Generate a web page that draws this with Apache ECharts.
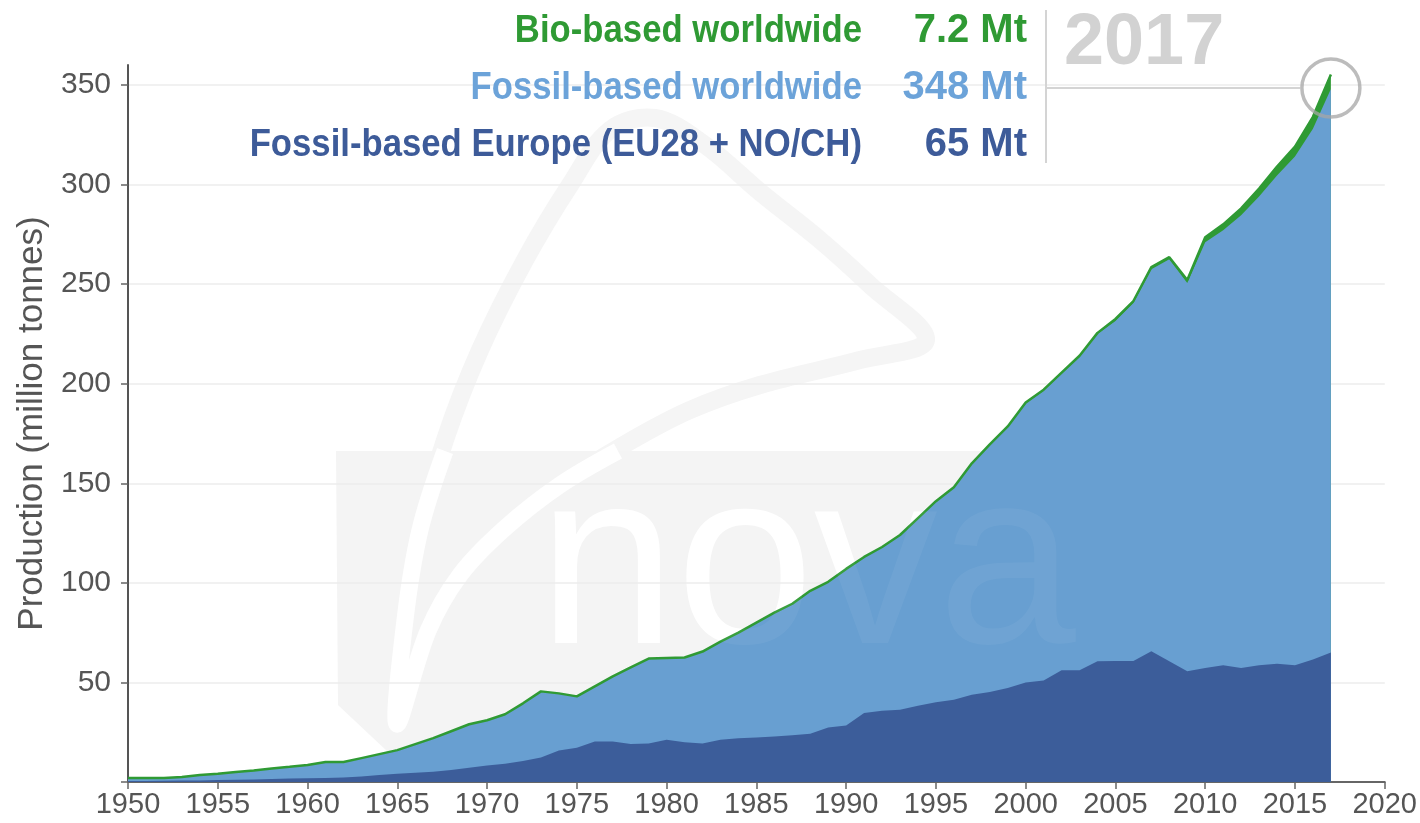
<!DOCTYPE html>
<html>
<head>
<meta charset="utf-8">
<script src="https://cdn.jsdelivr.net/npm/echarts@6/dist/echarts.min.js"></script>
<style>html,body{margin:0;padding:0;background:#fff}#c{width:1420px;height:823px}</style>
</head>
<body>
<div id="c"></div>
<script>
// ---- data (million tonnes) ----
var years = [1950,1951,1952,1953,1954,1955,1956,1957,1958,1959,
             1960,1961,1962,1963,1964,1965,1966,1967,1968,1969,
             1970,1971,1972,1973,1974,1975,1976,1977,1978,1979,
             1980,1981,1982,1983,1984,1985,1986,1987,1988,1989,
             1990,1991,1992,1993,1994,1995,1996,1997,1998,1999,
             2000,2001,2002,2003,2004,2005,2006,2007,2008,2009,
             2010,2011,2012,2013,2014,2015,2016,2017];
// Fossil-based worldwide (total fossil, includes Europe)
var fossilWorld = [2,2,2,2.5,3.5,4.2,5,5.8,6.8,7.6,
                   8.5,10,10,12,14,16,19,22,25.5,29,
                   31,34,39.5,45.5,44.5,43,48,53,57.5,62,
                   62.3,62.5,65.5,70.5,75,80,85,89.5,96,100.5,
                   107,113,118,124,132.5,141,148,160,169.5,178.5,
                   190,196.5,205,213.5,225,231.5,240.5,257.5,262.5,250.5,
                   271,277,284.5,294,304.5,314,328,348];
// Fossil-based Europe (EU28 + NO/CH)
var europe = [0.5,0.5,0.6,0.7,0.8,1,1.1,1.3,1.5,1.7,
              1.9,2,2.2,2.8,3.5,4.2,4.6,5.2,6,7.2,
              8.3,9.2,10.5,12.3,15.8,17.2,20.3,20.3,19.1,19.3,
              21.2,20,19.3,21.2,22,22.3,22.8,23.5,24.2,27.4,
              28.4,34.6,35.8,36.3,38.3,40.1,41.3,43.8,45.2,47.2,
              50,50.9,56.1,56.1,60.6,60.8,60.8,65.6,60.6,55.6,
              57.3,58.6,57.3,58.6,59.4,58.6,61.5,65];
// Bio-based worldwide
var bio = [0,0,0,0,0,0,0,0,0,0,
           0,0,0,0,0,0,0,0,0,0,
           0,0,0,0,0,0,0,0,0,0,
           0,0,0,0,0,0,0,0,0,0,
           0,0,0,0,0,0,0,0,0,0,
           0.5,0.5,0.5,0.5,0.5,1,1,1,1,1.5,
           2.5,3,3.5,4,4.5,5,6,7.2];
var yTicks = [0,50,100,150,200,250,300,350];
var yLabels = [50,100,150,200,250,300,350];
var legendRows = [
  {name:'Bio-based worldwide', value:'7.2 Mt', color:'#2f9a34'},
  {name:'Fossil-based worldwide', value:'348 Mt', color:'#6ca3d9'},
  {name:'Fossil-based Europe (EU28 + NO/CH)', value:'65 Mt', color:'#3d5b99'}
];
var highlightYear = '2017';

// ---- build series data (areas drawn on top of each other, bio on top of fossil) ----
var dEurope = years.map(function(y,i){return [y, europe[i]];});
var dWorld = years.map(function(y,i){return [y, fossilWorld[i]];});
var dTop = years.map(function(y,i){return [y, +(fossilWorld[i]+bio[i]).toFixed(2)];});

var chart = echarts.init(document.getElementById('c'), null, {renderer:'canvas'});
var FONT = '"Liberation Sans", Arial, sans-serif';

var graphics = [];
// faint watermark (behind the series)
var WG = '#f4f4f4';
graphics.push({type:'polyline', z:0, silent:true,
  shape:{smooth:0.35, points:[[397,724],[405,620],[420,530],[445,440],[480,350],[525,260],[570,185],[610,130],[655,118],[705,145],[760,192],[820,240],[870,285],[926,340],
    [860,360],[760,385],[690,410],[627,443],[560,485],[504,529],[460,575],[428,631],[397,724]]},
  style:{fill:null, stroke:'#f5f5f5', lineWidth:18}});
graphics.push({type:'polygon', z:0, silent:true,
  shape:{points:[[336,451],[1110,451],[1110,782],[420,782],[338,705]]},
  style:{fill:WG}});
graphics.push({type:'polyline', z:0, silent:true,
  shape:{smooth:0.35, points:[[445,451],[420,530],[405,620],[397,724],[428,631],[460,575],[504,529],[560,485],[618,451]]},
  style:{fill:null, stroke:'#ffffff', lineWidth:17}});
graphics.push({type:'text', z:0, silent:true, x:538, y:575,
  style:{text:'nova', fill:'#ffffff', font:'248px "Liberation Sans", Arial, sans-serif', align:'left', verticalAlign:'middle'}});
// the same letters faintly showing through the filled areas
graphics.push({type:'text', z:20, silent:true, x:538, y:575,
  style:{text:'nova', fill:'rgba(255,255,255,0.05)', font:'248px "Liberation Sans", Arial, sans-serif', align:'left', verticalAlign:'middle'}});

var rowY = [31, 88, 145];
legendRows.forEach(function(r, i){
  graphics.push({type:'text', z:10, x:862, y:rowY[i], scaleX:0.89, originX:0, originY:0,
    style:{text:r.name, fill:r.color, font:'bold 39px '+FONT, align:'right', verticalAlign:'middle'}});
  graphics.push({type:'text', z:10, x:1027, y:rowY[i],
    style:{text:r.value, fill:r.color, font:'bold 40px '+FONT, align:'right', verticalAlign:'middle'}});
});
graphics.push({type:'line', z:10, shape:{x1:1046,y1:10,x2:1046,y2:163}, style:{stroke:'#d4d4d4', lineWidth:2}});
graphics.push({type:'line', z:10, shape:{x1:1046,y1:88,x2:1300,y2:88}, style:{stroke:'#d4d4d4', lineWidth:2}});
graphics.push({type:'text', z:10, x:1064, y:44,
  style:{text:highlightYear, fill:'#d2d2d2', font:'bold 72px '+FONT, align:'left', verticalAlign:'middle'}});

var option = {
  animation:false,
  backgroundColor:'#ffffff',
  grid:{left:128, right:35, top:65, bottom:41, containLabel:false},
  xAxis:{
    type:'value', min:1950, max:2020, interval:5,
    axisLine:{show:true, lineStyle:{color:'#666', width:2}},
    axisTick:{show:true, length:7, lineStyle:{color:'#666', width:1.5}},
    axisLabel:{color:'#555', fontSize:29, fontFamily:FONT, margin:8, formatter:function(v){return String(v);}},
    splitLine:{show:false}
  },
  yAxis:{
    type:'value', min:0, max:360, interval:50,
    name:'Production (million tonnes)', nameLocation:'middle', nameGap:78,
    nameTextStyle:{color:'#555', fontSize:35, fontFamily:FONT},
    axisLine:{show:true, lineStyle:{color:'#555', width:2}},
    axisTick:{show:true, length:7, customValues:yTicks, lineStyle:{color:'#666', width:1.5}},
    axisLabel:{color:'#555', fontSize:30, fontFamily:FONT, margin:17, customValues:yLabels},
    splitLine:{show:true, lineStyle:{color:'#ececec', width:1.5}}
  },
  series:[
    {name:'Bio-based worldwide', type:'line', data:dTop, z:3,
     symbol:'none', lineStyle:{width:2.5, color:'#2f9a34'}, areaStyle:{color:'#2f9a34', opacity:1},
     markPoint:{symbol:'circle', symbolSize:58, silent:true,
       itemStyle:{color:'rgba(0,0,0,0)', borderColor:'rgba(165,165,165,0.75)', borderWidth:3.5},
       label:{show:false},
       data:[{coord:[2017, 348.5]}]}},
    {name:'Fossil-based worldwide', type:'line', data:dWorld, z:3,
     symbol:'none', lineStyle:{width:0}, areaStyle:{color:'#689fd1', opacity:1}},
    {name:'Fossil-based Europe (EU28 + NO/CH)', type:'line', data:dEurope, z:3,
     symbol:'none', lineStyle:{width:0}, areaStyle:{color:'#3c5d9a', opacity:1}}
  ],
  graphic:graphics
};
chart.setOption(option);
</script>
</body>
</html>
